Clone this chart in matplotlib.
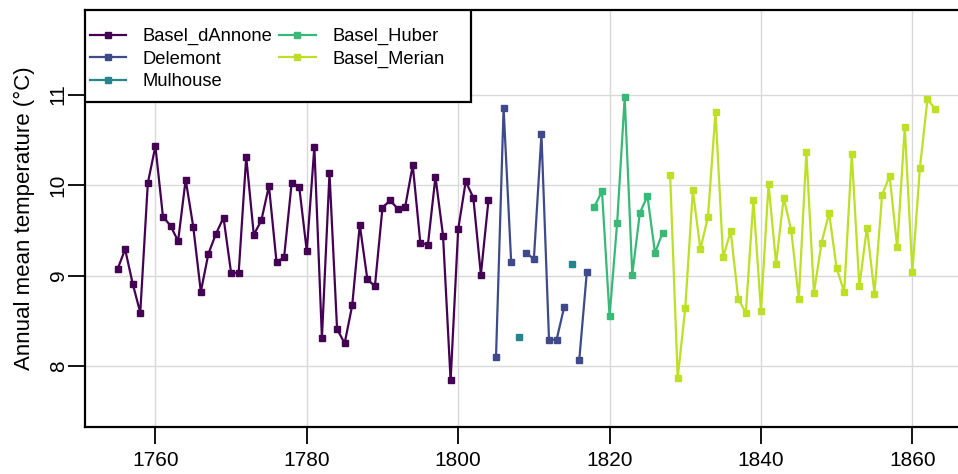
import numpy as np
import matplotlib.pyplot as plt
from matplotlib.patches import Rectangle

plt.rcParams['font.family'] = ['Liberation Sans', 'DejaVu Sans']

# annual mean temperature series (deg C)
years_dannone = np.arange(1755, 1805)
temp_dannone = [9.07, 9.29, 8.91, 8.59, 10.02, 10.43, 9.65, 9.55, 9.38, 10.06,
                9.54, 8.82, 9.24, 9.46, 9.64, 9.03, 9.03, 10.31, 9.45, 9.61,
                9.99, 9.15, 9.20, 10.02, 9.98, 9.27, 10.42, 8.31, 10.13, 8.41,
                8.25, 8.67, 9.56, 8.96, 8.88, 9.75, 9.83, 9.74, 9.76, 10.22,
                9.36, 9.34, 10.09, 9.44, 7.84, 9.51, 10.04, 9.86, 9.01, 9.83]

years_delemont = np.arange(1805, 1818)
temp_delemont = [8.10, 10.85, 9.15, np.nan, 9.25, 9.18, 10.56, 8.29, 8.29, 8.65,
                 np.nan, 8.07, 9.04]

years_mulhouse = np.arange(1808, 1816)
temp_mulhouse = [8.32, np.nan, np.nan, np.nan, np.nan, np.nan, np.nan, 9.13]

years_huber = np.arange(1818, 1828)
temp_huber = [9.76, 9.93, 8.55, 9.58, 10.97, 9.01, 9.69, 9.88, 9.25, 9.47]

years_merian = np.arange(1828, 1864)
temp_merian = [10.11, 7.87, 8.64, 9.94, 9.29, 9.65, 10.81, 9.20, 9.49, 8.74,
               8.59, 9.83, 8.61, 10.01, 9.13, 9.86, 9.50, 8.74, 10.36, 8.81,
               9.36, 9.69, 9.08, 8.82, 10.34, 8.88, 9.53, 8.80, 9.89, 10.10,
               9.31, 10.64, 9.04, 10.19, 10.95, 10.84]

series = [('Basel_dAnnone', years_dannone, temp_dannone),
          ('Delemont', years_delemont, temp_delemont),
          ('Mulhouse', years_mulhouse, temp_mulhouse),
          ('Basel_Huber', years_huber, temp_huber),
          ('Basel_Merian', years_merian, temp_merian)]
colors = plt.cm.viridis(np.linspace(0, 0.9, 5))

fig = plt.figure(figsize=(9.58, 4.74), dpi=100)
ax = fig.add_axes([85/958, 47/474, (967.6-85)/958, 417/474])

for (name, yrs, vals), col in zip(series, colors):
    ax.plot(yrs, vals, '-s', color=col, lw=1.6, ms=4.8, label=name, zorder=3)

ax.set_xlim(1750.7, 1867.3)
ax.set_ylim(7.326, 11.934)
ax.set_xticks(np.arange(1760, 1861, 20))
ax.set_yticks([8, 9, 10, 11])
ax.grid(True, color='#d9d9d9', lw=1.0, zorder=0)
for s in ax.spines.values():
    s.set_linewidth(1.6)
ax.tick_params(length=12.5, width=1.3, labelsize=15)
ax.tick_params(axis='x', pad=5)
ax.tick_params(axis='y', pad=0)
for lab in ax.get_yticklabels():
    lab.set_rotation(90)
    lab.set_va('center')
ax.set_ylabel('Annual mean temperature (°C)', fontsize=16, labelpad=10)

# legend box as in the original
ax.add_patch(Rectangle((0, 0.779), 0.437, 0.221, transform=ax.transAxes,
                       fill=True, facecolor='white', edgecolor='black',
                       lw=1.6, zorder=4))
leg = ax.legend(loc='upper left', bbox_to_anchor=(0.0, 0.968), ncol=2,
                frameon=False, fontsize=13.2, handlelength=2.0,
                handletextpad=0.9, columnspacing=0.35, labelspacing=0.3,
                borderpad=0.25, borderaxespad=0.0)
leg.set_zorder(5)

fig.savefig('out.png', dpi=100)
